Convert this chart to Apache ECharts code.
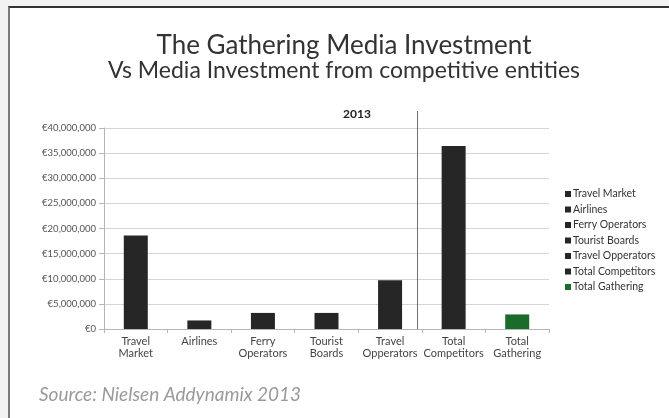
<!DOCTYPE html>
<html>
<head>
<meta charset="utf-8">
<script src="https://cdn.jsdelivr.net/npm/echarts@6/dist/echarts.min.js"></script>
<style>
  html, body { margin: 0; padding: 0; background: #f2f2f2; overflow: hidden; }
  #frame {
    position: absolute; left: 8px; top: 6px; width: 700px; height: 430px;
    background: #ffffff; border-top: 2px solid #333333; border-left: 2px solid #7a7a7a;
  }
  #chart { position: absolute; left: 0; top: 0; width: 669px; height: 418px; }
</style>
</head>
<body>
<div id="frame"></div>
<div id="chart"></div>
<script>
// Media spend by entity, 2013 (EUR)
const categories = [
  'Travel\nMarket', 'Airlines', 'Ferry\nOperators', 'Tourist\nBoards',
  'Travel\nOpperators', 'Total\nCompetitors', 'Total\nGathering'
];
const seriesNames = [
  'Travel Market', 'Airlines', 'Ferry Operators', 'Tourist Boards',
  'Travel Opperators', 'Total Competitors', 'Total Gathering'
];
const values = [18600000, 1700000, 3200000, 3200000, 9700000, 36400000, 2900000];
const barColors = ['#262626', '#262626', '#262626', '#262626', '#262626', '#262626', '#1b6b2a'];
const yTicks = { min: 0, max: 40000000, step: 5000000 };

const FONT = 'Lato, "Open Sans", sans-serif';

const chart = echarts.init(document.getElementById('chart'), null, { renderer: 'canvas' });

// One stacked series per entity so each bar gets its own legend entry
const series = seriesNames.map((name, i) => ({
  name: name,
  type: 'bar',
  stack: 'all',
  barWidth: 24,
  itemStyle: { color: barColors[i] },
  data: values.map((v, j) => (j === i ? v : null))
}));

function euro(v) {
  return '€' + Number(v).toLocaleString('en-US');
}

chart.setOption({
  animation: false,
  textStyle: { fontFamily: FONT },
  title: [
    {
      text: '{a|The Gathering Media Investment}\n{b|Vs Media Investment from competitive entities}',
      left: 339, top: 28, textAlign: 'center',
      textStyle: {
        fontFamily: FONT, color: '#333333', fontWeight: 'normal',
        rich: {
          a: { fontFamily: FONT, fontSize: 26, fontWeight: 'normal', color: '#333333', lineHeight: 25, align: 'center' },
          b: { fontFamily: FONT, fontSize: 23, fontWeight: 'normal', color: '#333333', lineHeight: 26, align: 'center' }
        }
      }
    },
    {
      text: '2013',
      left: 338, top: 103,
      textStyle: { fontFamily: FONT, fontSize: 12, fontWeight: 'bold', color: '#222222' }
    },
    {
      text: 'Source: Nielsen Addynamix 2013',
      left: 34, top: 380,
      textStyle: { fontFamily: FONT, fontSize: 19, fontStyle: 'italic', fontWeight: 'normal', color: '#9a9a9a' }
    }
  ],
  legend: {
    orient: 'vertical',
    left: 560, top: 183,
    icon: 'rect',
    itemWidth: 6, itemHeight: 6,
    itemGap: 3.5,
    textStyle: { fontFamily: FONT, fontSize: 10.5, color: '#333333', lineHeight: 12, padding: [0, 0, 0, -3] },
    data: seriesNames
  },
  grid: { left: 104, right: 120, top: 128, bottom: 89 },
  xAxis: {
    type: 'category',
    data: categories,
    axisLine: { lineStyle: { color: '#b5b5b5' } },
    axisTick: { show: true, lineStyle: { color: '#b5b5b5' }, length: 4 },
    axisLabel: { fontFamily: FONT, fontSize: 11, color: '#444444', lineHeight: 12, margin: 6, interval: 0 }
  },
  yAxis: {
    type: 'value',
    min: yTicks.min, max: yTicks.max, interval: yTicks.step,
    axisLine: { show: true, lineStyle: { color: '#b5b5b5' } },
    axisTick: { show: true, length: 5, lineStyle: { color: '#b5b5b5' } },
    axisLabel: { fontFamily: FONT, fontSize: 9.5, color: '#555555', margin: 8, formatter: euro },
    splitLine: { lineStyle: { color: '#d4d4d4' } }
  },
  series: series
});

// Divider between the individual competitors and the totals
const leftCenter = chart.convertToPixel({ xAxisIndex: 0 }, 4);
const rightCenter = chart.convertToPixel({ xAxisIndex: 0 }, 5);
const divX = Math.round(leftCenter + (rightCenter - leftCenter) * 0.43) + 0.5;
const baseY = chart.convertToPixel({ yAxisIndex: 0 }, 0);
chart.setOption({
  graphic: [{
    type: 'line',
    z: 10,
    shape: { x1: divX, y1: 111, x2: divX, y2: baseY },
    style: { stroke: '#6f6f6f', lineWidth: 1 }
  }]
});
</script>
</body>
</html>
